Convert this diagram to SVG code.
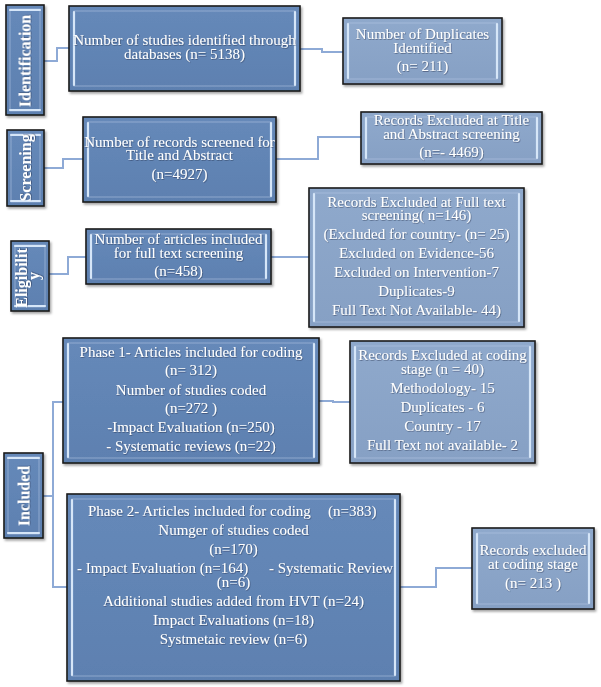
<svg xmlns="http://www.w3.org/2000/svg" width="601" height="687" viewBox="0 0 601 687">
<defs>
<filter id="sh" x="-10%" y="-10%" width="125%" height="125%">
<feDropShadow dx="1.5" dy="2" stdDeviation="1.2" flood-color="#000" flood-opacity="0.35"/>
</filter>
<filter id="tsh" x="-5%" y="-20%" width="110%" height="150%">
<feDropShadow dx="0.6" dy="0.8" stdDeviation="0.5" flood-color="#1c2c44" flood-opacity="0.55"/>
</filter>
<linearGradient id="gd" x1="0" y1="0" x2="0" y2="1">
<stop offset="0" stop-color="#6689b9"/>
<stop offset="1" stop-color="#5d80b0"/>
</linearGradient>
<linearGradient id="gl" x1="0" y1="0" x2="0" y2="1">
<stop offset="0" stop-color="#8fa9cc"/>
<stop offset="1" stop-color="#86a0c4"/>
</linearGradient>
</defs>
<style>
.dk{fill:url(#gd);stroke:#1c1c1c;stroke-width:1.6;filter:url(#sh)}
.lt{fill:url(#gl);stroke:#1c1c1c;stroke-width:1.6;filter:url(#sh)}
.in{fill:none;stroke:#b7cbe6;stroke-width:1;opacity:0.55}
.hl{stroke:#d6e6f8;stroke-width:2.2;stroke-linecap:round}
.t{font-family:"Liberation Serif","Times New Roman",serif;font-size:15px;fill:#fff;text-anchor:middle;filter:url(#tsh)}
.s{text-anchor:start}
.lb{font-family:"Liberation Serif","Times New Roman",serif;font-size:16px;font-weight:bold;fill:#fff;text-anchor:middle;filter:url(#tsh)}
.cn{fill:none;stroke:#8eaad6;stroke-width:2}
</style>
<rect width="601" height="687" fill="#fff"/>

<g id="connectors">
<polyline class="cn" points="44,61 57,61 57,48 69,48"/>
<polyline class="cn" points="300,49 322,49 322,52 343,52"/>
<polyline class="cn" points="44,168 63,168 63,159 83,159"/>
<polyline class="cn" points="276,159 318,159 318,137 361,137"/>
<polyline class="cn" points="49,274 68,274 68,257 86,257"/>
<polyline class="cn" points="271,257 309,257"/>
<polyline class="cn" points="319,401 333,401 333,402 350,402"/>
<polyline class="cn" points="43,496 53,496"/>
<polyline class="cn" points="63,402 53,402 53,587 67,587"/>
<polyline class="cn" points="400,587 436,587 436,568 472,568"/>
</g>

<g id="label-identification">
<rect class="dk" x="6" y="5" width="38" height="110"/>
<rect class="in" x="10" y="9" width="30" height="102"/>
<line class="hl" x1="10" y1="10" x2="40" y2="10"/>
<line class="hl" x1="10" y1="110" x2="40" y2="110"/>
<text class="lb" transform="translate(30.5,61) rotate(-90)">Identification</text>
</g>

<g id="label-screening">
<rect class="dk" x="7" y="130" width="37" height="76"/>
<rect class="in" x="11" y="134" width="29" height="68"/>
<line class="hl" x1="11" y1="135" x2="40" y2="135"/>
<line class="hl" x1="11" y1="201" x2="40" y2="201"/>
<text class="lb" transform="translate(31,168) rotate(-90)">Screening</text>
</g>

<g id="label-eligibility">
<rect class="dk" x="11" y="241" width="38" height="70"/>
<rect class="in" x="15" y="245" width="30" height="62"/>
<line class="hl" x1="15" y1="246" x2="45" y2="246"/>
<line class="hl" x1="15" y1="306" x2="45" y2="306"/>
<text class="lb" transform="translate(27,278) rotate(-90)">Eligibilit</text>
<text class="lb" transform="translate(39,276) rotate(-90)">y</text>
</g>

<g id="label-included">
<rect class="dk" x="4" y="453" width="39" height="85"/>
<rect class="in" x="8" y="457" width="31" height="77"/>
<line class="hl" x1="8" y1="458" x2="39" y2="458"/>
<line class="hl" x1="8" y1="533" x2="39" y2="533"/>
<text class="lb" transform="translate(29.5,496) rotate(-90)">Included</text>
</g>

<g id="node-identified">
<rect class="dk" x="69" y="6" width="231" height="85"/>
<rect class="in" x="74" y="11" width="221" height="75"/>
<line class="hl" x1="74" y1="12" x2="74" y2="85"/>
<line class="hl" x1="295" y1="12" x2="295" y2="85"/>
<text class="t" x="184.5" y="45">Number of studies identified through</text>
<text class="t" x="184.5" y="59">databases (n= 5138)</text>
</g>

<g id="node-duplicates">
<rect class="lt" x="343" y="18" width="159" height="66"/>
<rect class="in" x="348" y="23" width="149" height="56"/>
<line class="hl" x1="348" y1="24" x2="348" y2="78"/>
<line class="hl" x1="497" y1="24" x2="497" y2="78"/>
<text class="t" x="422.5" y="39">Number of Duplicates</text>
<text class="t" x="422.5" y="53">Identified</text>
<text class="t" x="422.5" y="71">(n= 211)</text>
</g>

<g id="node-screened">
<rect class="dk" x="83" y="117" width="193" height="85"/>
<rect class="in" x="88" y="122" width="183" height="75"/>
<line class="hl" x1="88" y1="123" x2="88" y2="196"/>
<line class="hl" x1="271" y1="123" x2="271" y2="196"/>
<text class="t" x="179.5" y="147">Number of records screened for</text>
<text class="t" x="179.5" y="160">Title and Abstract</text>
<text class="t" x="179.5" y="179">(n=4927)</text>
</g>

<g id="node-excl-title">
<rect class="lt" x="361" y="112" width="181" height="52"/>
<rect class="in" x="366" y="117" width="171" height="42"/>
<line class="hl" x1="366" y1="118" x2="366" y2="158"/>
<line class="hl" x1="537" y1="118" x2="537" y2="158"/>
<text class="t" x="451.5" y="125">Records Excluded at Title</text>
<text class="t" x="451.5" y="139">and Abstract screening</text>
<text class="t" x="451.5" y="157">(n=- 4469)</text>
</g>

<g id="node-fulltext">
<rect class="dk" x="86" y="229" width="185" height="55"/>
<rect class="in" x="91" y="234" width="175" height="45"/>
<line class="hl" x1="91" y1="235" x2="91" y2="278"/>
<line class="hl" x1="266" y1="235" x2="266" y2="278"/>
<text class="t" x="178.5" y="244">Number of articles included</text>
<text class="t" x="178.5" y="258">for full text screening</text>
<text class="t" x="178.5" y="276">(n=458)</text>
</g>

<g id="node-excl-fulltext">
<rect class="lt" x="309" y="188" width="215" height="139"/>
<rect class="in" x="314" y="193" width="205" height="129"/>
<line class="hl" x1="314" y1="194" x2="314" y2="321"/>
<line class="hl" x1="519" y1="194" x2="519" y2="321"/>
<text class="t" x="416.5" y="207">Records Excluded at Full text</text>
<text class="t" x="416.5" y="220">screening( n=146)</text>
<text class="t" x="416.5" y="239">(Excluded for country- (n= 25)</text>
<text class="t" x="416.5" y="258">Excluded on Evidence-56</text>
<text class="t" x="416.5" y="277">Excluded on Intervention-7</text>
<text class="t" x="416.5" y="296">Duplicates-9</text>
<text class="t" x="416.5" y="315">Full Text Not Available- 44)</text>
</g>

<g id="node-phase1">
<rect class="dk" x="63" y="338" width="256" height="125"/>
<rect class="in" x="68" y="343" width="246" height="115"/>
<line class="hl" x1="68" y1="344" x2="68" y2="457"/>
<line class="hl" x1="314" y1="344" x2="314" y2="457"/>
<text class="t" x="191" y="357">Phase 1- Articles included for coding</text>
<text class="t" x="191" y="375">(n= 312)</text>
<text class="t" x="191" y="395">Number of studies coded</text>
<text class="t" x="191" y="413">(n=272 )</text>
<text class="t" x="191" y="432">-Impact Evaluation (n=250)</text>
<text class="t" x="191" y="451">- Systematic reviews (n=22)</text>
</g>

<g id="node-excl-coding1">
<rect class="lt" x="350" y="341" width="185" height="122"/>
<rect class="in" x="355" y="346" width="175" height="112"/>
<line class="hl" x1="355" y1="347" x2="355" y2="457"/>
<line class="hl" x1="530" y1="347" x2="530" y2="457"/>
<text class="t" x="442.5" y="360">Records Excluded at coding</text>
<text class="t" x="442.5" y="374">stage (n = 40)</text>
<text class="t" x="442.5" y="393">Methodology- 15</text>
<text class="t" x="442.5" y="412">Duplicates - 6</text>
<text class="t" x="442.5" y="431">Country - 17</text>
<text class="t" x="442.5" y="450">Full Text not available- 2</text>
</g>

<g id="node-phase2">
<rect class="dk" x="67" y="494" width="333" height="187"/>
<rect class="in" x="72" y="499" width="323" height="177"/>
<line class="hl" x1="72" y1="500" x2="72" y2="675"/>
<line class="hl" x1="395" y1="500" x2="395" y2="675"/>
<text class="t s" x="88" y="516">Phase 2- Articles included for coding</text>
<text class="t s" x="328" y="516">(n=383)</text>
<text class="t" x="233.5" y="535">Numger of studies coded</text>
<text class="t" x="233.5" y="554">(n=170)</text>
<text class="t s" x="77" y="573">- Impact Evaluation (n=164)</text>
<text class="t s" x="269" y="573">- Systematic Review</text>
<text class="t" x="233.5" y="587">(n=6)</text>
<text class="t" x="233.5" y="606">Additional studies added from HVT (n=24)</text>
<text class="t" x="233.5" y="625">Impact Evaluations (n=18)</text>
<text class="t" x="233.5" y="644">Systmetaic review (n=6)</text>
</g>

<g id="node-excl-coding2">
<rect class="lt" x="472" y="528" width="122" height="81"/>
<rect class="in" x="477" y="533" width="112" height="71"/>
<line class="hl" x1="477" y1="534" x2="477" y2="603"/>
<line class="hl" x1="589" y1="534" x2="589" y2="603"/>
<text class="t" x="533" y="555">Records excluded</text>
<text class="t" x="533" y="569">at coding stage</text>
<text class="t" x="533" y="588">(n= 213 )</text>
</g>
</svg>
